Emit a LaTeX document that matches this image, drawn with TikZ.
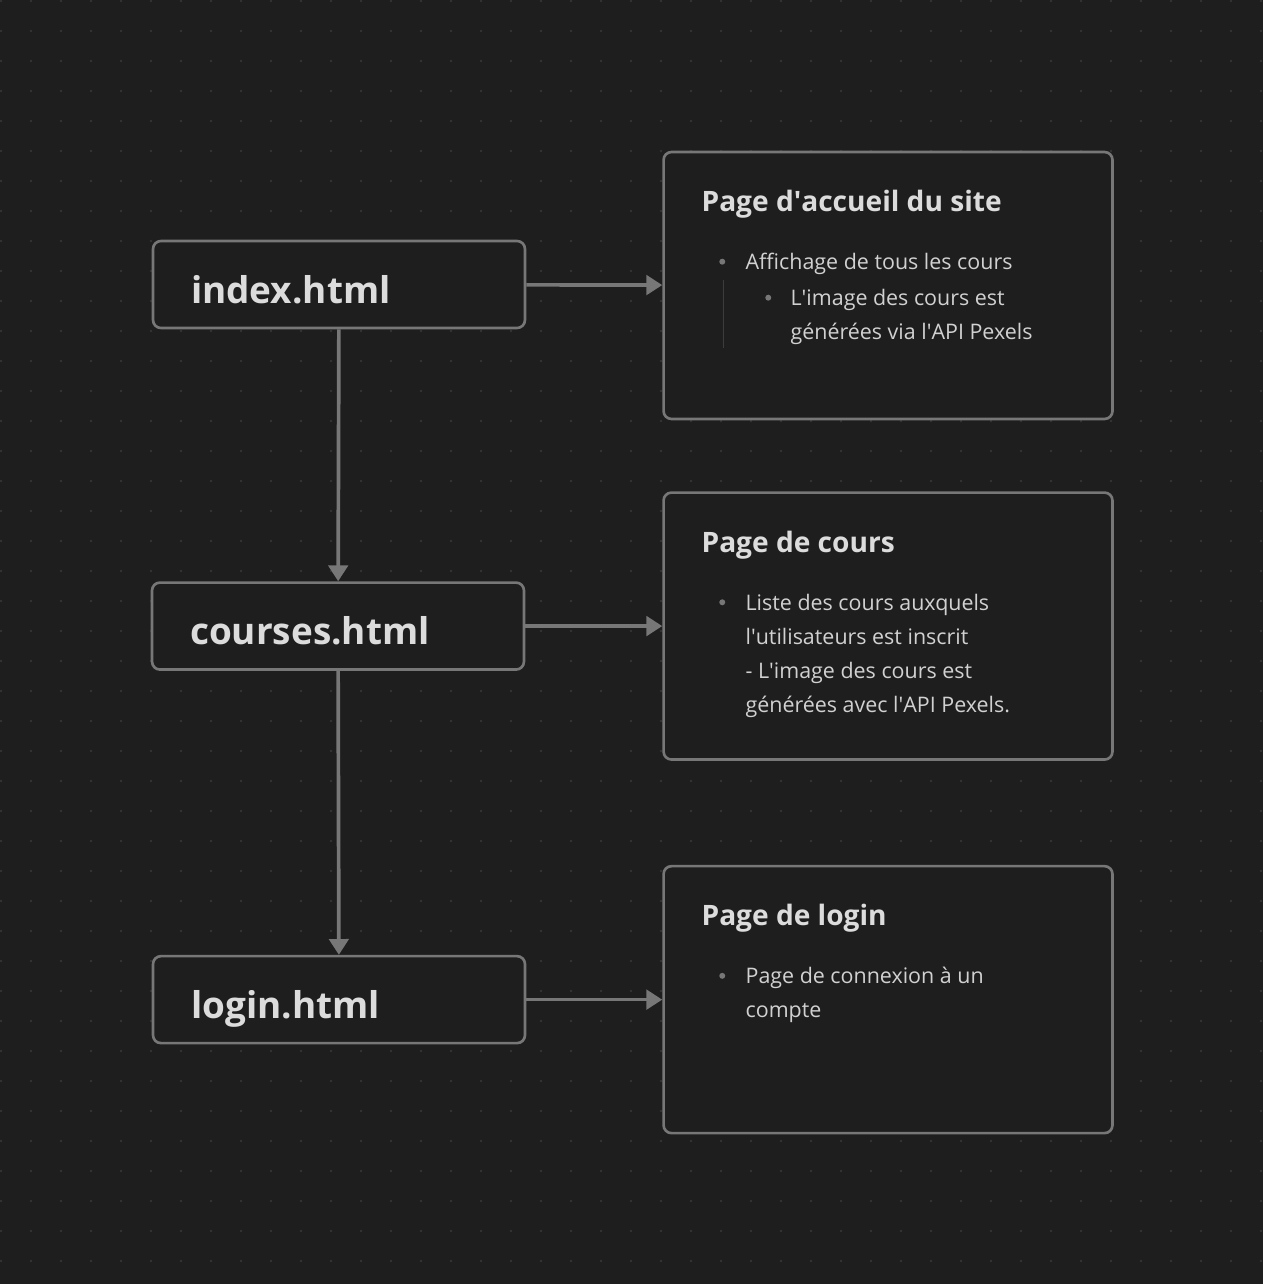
\documentclass[tikz,border=0pt]{standalone}
\usepackage{fontspec}
\setmainfont{Open Sans}
\usetikzlibrary{positioning, arrows.meta, calc}
\definecolor{bg}{HTML}{1E1E1E}
\definecolor{griddot}{HTML}{353535}
\definecolor{edge}{HTML}{777777}
\definecolor{ink}{HTML}{DCDCDC}
\definecolor{guide}{HTML}{3C3C3C}
\tikzset{
file/.style={draw=edge, line width=1.5pt, fill=bg, rounded corners=4.5pt, minimum width=7.44cm, minimum height=1.74cm}, % the .html boxes
page/.style={draw=edge, line width=1.5pt, fill=bg, rounded corners=4.5pt, minimum width=8.98cm, minimum height=5.34cm}, % the description boxes
fname/.style={anchor=base west, inner sep=0pt, text=ink, font=\bfseries\fontsize{21}{25}\selectfont}, % file name in a box
title/.style={anchor=base west, inner sep=0pt, text=ink, font=\bfseries\fontsize{16}{19}\selectfont}, % box heading
line/.style={anchor=base west, inner sep=0pt, text=ink!95!black, font=\fontsize{12.2}{15}\selectfont}, % one line of a bullet
flow/.style={draw=edge, line width=2.1pt, -{Triangle[length=9pt, width=11pt]}}, % arrows between boxes
}

\begin{document}
\begin{tikzpicture}[x=0.02cm, y=-0.02cm]
    \fill[bg] (0,0) rectangle (1263,1284);
    \useasboundingbox (0,0) rectangle (1263,1284);
    \foreach \i in {0,...,42}
        \foreach \j in {0,...,42}
            \fill[griddot] (1+30*\i, 1+30*\j) circle (0.75pt);

    \node[file] (index) at (339,284.5) {};
    \node[file, below=5.04cm of index.south, anchor=north, xshift=-0.02cm] (courses) {};
    \node[file, below=5.68cm of courses.south, anchor=north, xshift=0.02cm] (login) {};
    \node[page, right=2.72cm of index, yshift=-0.02cm] (home) {};
    \node[page, right=2.74cm of courses] (list) {};
    \node[page, right=2.72cm of login] (auth) {};

    \node[fname] (indexT) at ($(index.west)+(39,18.5)$) {index.html};
    \node[fname] (coursesT) at ($(courses.west)+(39,18.5)$) {courses.html};
    \node[fname] (loginT) at ($(login.west)+(39,18.5)$) {login.html};

    \draw[flow] (index) -- (home);
    \draw[flow] (courses) -- (list);
    \draw[flow] (login) -- (auth);
    \draw[flow] (index) -- (courses);
    \draw[flow] (courses) -- (login);

    % page d'accueil
    \node[title] (homeT) at ($(home.north west)+(39,61)$) {Page d\textquotesingle accueil du site};
    \fill[edge] ($(home.north west)+(60,111)$) circle (1.7pt);
    \node[line] (homeA) at ($(home.north west)+(83,119)$) {Affichage de tous les cours};
    \draw[guide, line width=0.6pt] ($(home.north west)+(61,129)$) -- ($(home.north west)+(61,197)$);
    \fill[edge] ($(home.north west)+(106,147)$) circle (1.7pt);
    \node[line] (homeB) at ($(home.north west)+(128,155)$) {L\textquotesingle image des cours est};
    \node[line] (homeC) at ($(home.north west)+(128,189)$) {générées via l\textquotesingle API Pexels};

    % page de cours
    \node[title] (listT) at ($(list.north west)+(39,61)$) {Page de cours};
    \fill[edge] ($(list.north west)+(60,111)$) circle (1.7pt);
    \node[line] (listA) at ($(list.north west)+(83,119)$) {Liste des cours auxquels};
    \node[line] (listB) at ($(list.north west)+(83,153)$) {l\textquotesingle utilisateurs est inscrit};
    \node[line] (listC) at ($(list.north west)+(83,187)$) {- L\textquotesingle image des cours est};
    \node[line] (listD) at ($(list.north west)+(83,221)$) {générées avec l\textquotesingle API Pexels.};

    % page de login
    \node[title] (authT) at ($(auth.north west)+(39,61)$) {Page de login};
    \fill[edge] ($(auth.north west)+(60,111)$) circle (1.7pt);
    \node[line] (authA) at ($(auth.north west)+(83,119)$) {Page de connexion à un};
    \node[line] (authB) at ($(auth.north west)+(83,153)$) {compte};
\end{tikzpicture}
\end{document}
